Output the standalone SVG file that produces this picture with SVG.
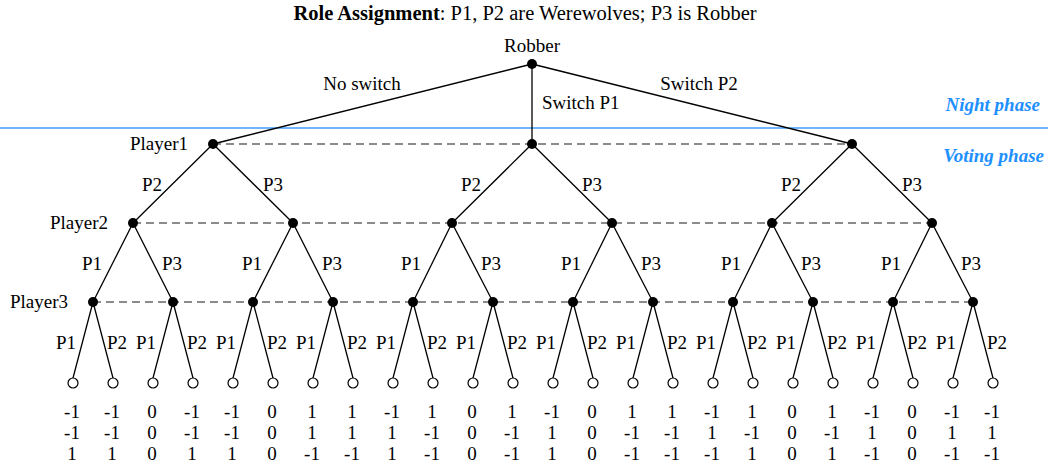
<svg xmlns="http://www.w3.org/2000/svg" width="1048" height="466" viewBox="0 0 1048 466" font-family="'Liberation Serif', 'DejaVu Serif', serif">
<style>
text{font-family:'Liberation Serif','DejaVu Serif',serif;font-size:19px;fill:#000}
.c{text-anchor:middle}
.e{text-anchor:end}
.ph{font-weight:bold;font-style:italic;fill:#1e8fff;text-anchor:end}
.edge{stroke:#000;stroke-width:1.3;fill:none}
.dash{stroke:#666;stroke-width:1.6;stroke-dasharray:8 5;fill:none}
.dec{fill:#000}
.leaf{fill:#fff;stroke:#000;stroke-width:1.2}
</style>
<rect width="1048" height="466" fill="#fff"/>
<text class="c" x="525" y="20" style="font-size:20.5px"><tspan font-weight="bold">Role Assignment</tspan>: P1, P2 are Werewolves; P3 is Robber</text>
<line x1="0" y1="128" x2="1048" y2="128" stroke="#6fb6ff" stroke-width="2"/>
<text class="ph" x="1040" y="111">Night phase</text>
<text class="ph" x="1044" y="162">Voting phase</text>
<g id="connectors">
<path class="dash" d="M213 144H852M133 223H932M93 302H973"/>
<path class="edge" d="M532 64L213 144M532 64L532 144M532 64L852 144"/>
<path class="edge" d="M213 144L133 223M213 144L293 223M532 144L452 223M532 144L612 223M852 144L772 223M852 144L932 223"/>
<path class="edge" d="M133 223L93 302M133 223L173 302M293 223L253 302M293 223L333 302M452 223L413 302M452 223L493 302M612 223L573 302M612 223L653 302M772 223L733 302M772 223L813 302M932 223L893 302M932 223L973 302"/>
<path class="edge" d="M93 302L73 378M93 302L113 378M173 302L153 378M173 302L193 378M253 302L233 378M253 302L273 378M333 302L313 378M333 302L353 378M413 302L393 378M413 302L433 378M493 302L473 378M493 302L513 378M573 302L553 378M573 302L593 378M653 302L633 378M653 302L673 378M733 302L713 378M733 302L753 378M813 302L793 378M813 302L833 378M893 302L873 378M893 302L913 378M973 302L953 378M973 302L993 378"/>
</g>
<g id="edge-labels">
<text class="c" x="362" y="90">No switch</text>
<text x="542" y="109">Switch P1</text>
<text class="c" x="699" y="90">Switch P2</text>
<text class="c" x="152" y="191">P2</text><text class="c" x="273" y="191">P3</text>
<text class="c" x="471" y="191">P2</text><text class="c" x="592" y="191">P3</text>
<text class="c" x="791" y="191">P2</text><text class="c" x="912" y="191">P3</text>
<text class="c" x="92" y="270">P1</text><text class="c" x="172" y="270">P3</text>
<text class="c" x="252" y="270">P1</text><text class="c" x="332" y="270">P3</text>
<text class="c" x="411" y="270">P1</text><text class="c" x="491" y="270">P3</text>
<text class="c" x="571" y="270">P1</text><text class="c" x="651" y="270">P3</text>
<text class="c" x="731" y="270">P1</text><text class="c" x="811" y="270">P3</text>
<text class="c" x="891" y="270">P1</text><text class="c" x="971" y="270">P3</text>
<text class="c" x="66" y="349">P1</text><text class="c" x="117" y="349">P2</text>
<text class="c" x="146" y="349">P1</text><text class="c" x="197" y="349">P2</text>
<text class="c" x="226" y="349">P1</text><text class="c" x="277" y="349">P2</text>
<text class="c" x="306" y="349">P1</text><text class="c" x="357" y="349">P2</text>
<text class="c" x="386" y="349">P1</text><text class="c" x="437" y="349">P2</text>
<text class="c" x="466" y="349">P1</text><text class="c" x="517" y="349">P2</text>
<text class="c" x="546" y="349">P1</text><text class="c" x="597" y="349">P2</text>
<text class="c" x="626" y="349">P1</text><text class="c" x="677" y="349">P2</text>
<text class="c" x="706" y="349">P1</text><text class="c" x="757" y="349">P2</text>
<text class="c" x="786" y="349">P1</text><text class="c" x="837" y="349">P2</text>
<text class="c" x="866" y="349">P1</text><text class="c" x="917" y="349">P2</text>
<text class="c" x="946" y="349">P1</text><text class="c" x="997" y="349">P2</text>
</g>
<g id="robber"><circle class="dec" cx="532" cy="64" r="5"/><text class="c" x="532" y="52">Robber</text></g>
<g id="player1">
<text class="e" x="188" y="150">Player1</text>
<circle class="dec" cx="213" cy="144" r="5"/><circle class="dec" cx="532" cy="144" r="5"/><circle class="dec" cx="852" cy="144" r="5"/>
</g>
<g id="player2">
<text class="e" x="108" y="229">Player2</text>
<circle class="dec" cx="133" cy="223" r="5"/><circle class="dec" cx="293" cy="223" r="5"/><circle class="dec" cx="452" cy="223" r="5"/><circle class="dec" cx="612" cy="223" r="5"/><circle class="dec" cx="772" cy="223" r="5"/><circle class="dec" cx="932" cy="223" r="5"/>
</g>
<g id="player3">
<text class="e" x="68" y="308">Player3</text>
<circle class="dec" cx="93" cy="302" r="5"/><circle class="dec" cx="173" cy="302" r="5"/><circle class="dec" cx="253" cy="302" r="5"/><circle class="dec" cx="333" cy="302" r="5"/><circle class="dec" cx="413" cy="302" r="5"/><circle class="dec" cx="493" cy="302" r="5"/><circle class="dec" cx="573" cy="302" r="5"/><circle class="dec" cx="653" cy="302" r="5"/><circle class="dec" cx="733" cy="302" r="5"/><circle class="dec" cx="813" cy="302" r="5"/><circle class="dec" cx="893" cy="302" r="5"/><circle class="dec" cx="973" cy="302" r="5"/>
</g>
<g id="leaves">
<circle class="leaf" cx="73" cy="383" r="5"/><circle class="leaf" cx="113" cy="383" r="5"/><circle class="leaf" cx="153" cy="383" r="5"/><circle class="leaf" cx="193" cy="383" r="5"/><circle class="leaf" cx="233" cy="383" r="5"/><circle class="leaf" cx="273" cy="383" r="5"/><circle class="leaf" cx="313" cy="383" r="5"/><circle class="leaf" cx="353" cy="383" r="5"/><circle class="leaf" cx="393" cy="383" r="5"/><circle class="leaf" cx="433" cy="383" r="5"/><circle class="leaf" cx="473" cy="383" r="5"/><circle class="leaf" cx="513" cy="383" r="5"/><circle class="leaf" cx="553" cy="383" r="5"/><circle class="leaf" cx="593" cy="383" r="5"/><circle class="leaf" cx="633" cy="383" r="5"/><circle class="leaf" cx="673" cy="383" r="5"/><circle class="leaf" cx="713" cy="383" r="5"/><circle class="leaf" cx="753" cy="383" r="5"/><circle class="leaf" cx="793" cy="383" r="5"/><circle class="leaf" cx="833" cy="383" r="5"/><circle class="leaf" cx="873" cy="383" r="5"/><circle class="leaf" cx="913" cy="383" r="5"/><circle class="leaf" cx="953" cy="383" r="5"/><circle class="leaf" cx="993" cy="383" r="5"/>
</g>
<g id="payoffs">
<text class="c" y="418"><tspan x="72">-1</tspan><tspan x="112">-1</tspan><tspan x="152">0</tspan><tspan x="192">-1</tspan><tspan x="232">-1</tspan><tspan x="272">0</tspan><tspan x="312">1</tspan><tspan x="352">1</tspan><tspan x="392">-1</tspan><tspan x="432">1</tspan><tspan x="472">0</tspan><tspan x="512">1</tspan><tspan x="552">-1</tspan><tspan x="592">0</tspan><tspan x="632">1</tspan><tspan x="672">1</tspan><tspan x="712">-1</tspan><tspan x="752">1</tspan><tspan x="792">0</tspan><tspan x="832">1</tspan><tspan x="872">-1</tspan><tspan x="912">0</tspan><tspan x="952">-1</tspan><tspan x="992">-1</tspan></text>
<text class="c" y="439"><tspan x="72">-1</tspan><tspan x="112">-1</tspan><tspan x="152">0</tspan><tspan x="192">-1</tspan><tspan x="232">-1</tspan><tspan x="272">0</tspan><tspan x="312">1</tspan><tspan x="352">1</tspan><tspan x="392">1</tspan><tspan x="432">-1</tspan><tspan x="472">0</tspan><tspan x="512">-1</tspan><tspan x="552">1</tspan><tspan x="592">0</tspan><tspan x="632">-1</tspan><tspan x="672">-1</tspan><tspan x="712">1</tspan><tspan x="752">-1</tspan><tspan x="792">0</tspan><tspan x="832">-1</tspan><tspan x="872">1</tspan><tspan x="912">0</tspan><tspan x="952">1</tspan><tspan x="992">1</tspan></text>
<text class="c" y="460"><tspan x="72">1</tspan><tspan x="112">1</tspan><tspan x="152">0</tspan><tspan x="192">1</tspan><tspan x="232">1</tspan><tspan x="272">0</tspan><tspan x="312">-1</tspan><tspan x="352">-1</tspan><tspan x="392">1</tspan><tspan x="432">-1</tspan><tspan x="472">0</tspan><tspan x="512">-1</tspan><tspan x="552">1</tspan><tspan x="592">0</tspan><tspan x="632">-1</tspan><tspan x="672">-1</tspan><tspan x="712">-1</tspan><tspan x="752">1</tspan><tspan x="792">0</tspan><tspan x="832">1</tspan><tspan x="872">-1</tspan><tspan x="912">0</tspan><tspan x="952">-1</tspan><tspan x="992">-1</tspan></text>
</g>
</svg>
